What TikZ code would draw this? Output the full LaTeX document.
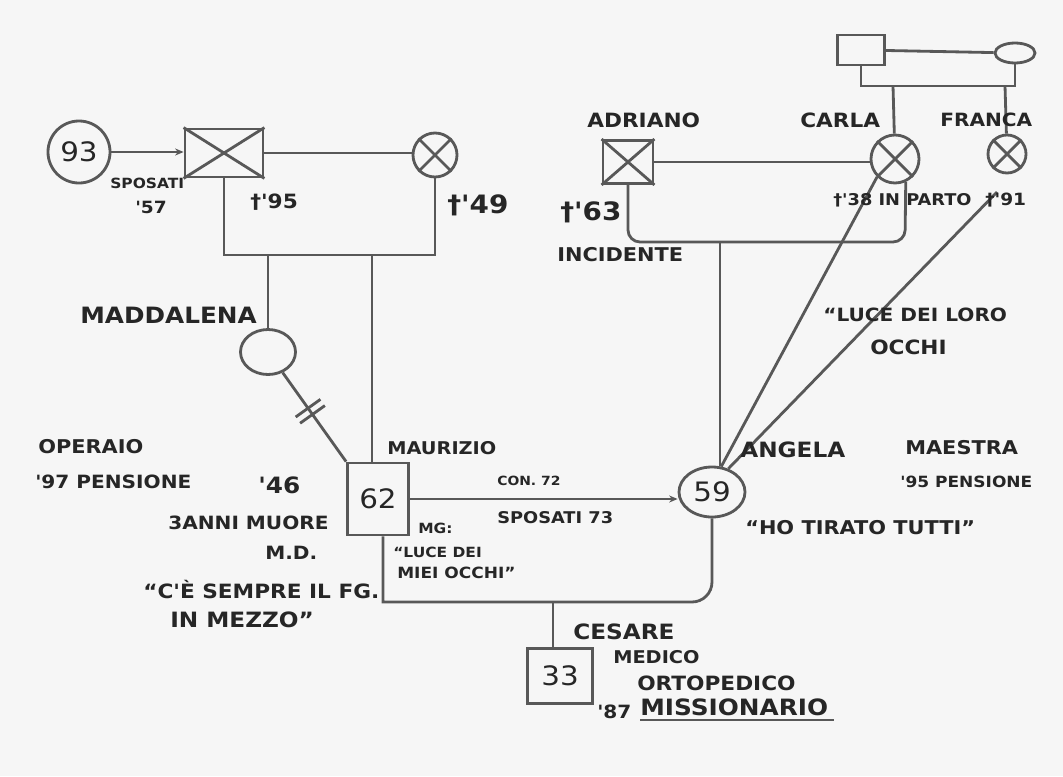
\documentclass[tikz,border=0pt]{standalone}
\usepackage{fontspec}
\newfontfamily\hand[FakeStretch=1.1]{DejaVu Sans}
\usetikzlibrary{shapes.geometric,arrows.meta,calc}
\definecolor{linec}{RGB}{88,88,88}
\definecolor{txtc}{RGB}{38,38,38}
\definecolor{bgc}{RGB}{246,246,246}
\newcommand\fsz[1]{\fontsize{#1}{#1}\selectfont}
\begin{document}
\begin{tikzpicture}[x=0.025cm,y=-0.025cm,
  ln/.style={draw=linec,line width=2pt},
  arr/.style={ln,-{Stealth[length=6pt,width=5pt]}},
  lab/.style={anchor=west,inner sep=0pt,text=txtc,font=\hand\bfseries},
  sq/.style={draw=linec,line width=2pt,rectangle,inner sep=0pt},
  ci/.style={draw=linec,line width=2pt,circle,inner sep=0pt},
  el/.style={draw=linec,line width=2pt,ellipse,inner sep=0pt},
  num/.style={text=txtc,font=\hand\fsz{19}}]
\fill[bgc] (0,0) rectangle (1063,776);
\useasboundingbox (0,0) rectangle (1063,776);

% ---------- left family ----------
\node[ci,minimum size=1.55cm,num] (n93) at (79,152) {93};
\node[sq,minimum width=1.95cm,minimum height=1.2cm] (sq1) at (224,153) {};
\draw[ln] (sq1.north west) -- (sq1.south east) (sq1.north east) -- (sq1.south west);
\node[ci,minimum size=1.1cm] (x1) at (435,155) {};
\draw[ln] (x1.north west) -- (x1.south east) (x1.north east) -- (x1.south west);
\draw[arr] (n93.east) -- (n93.east -| sq1.west);
\draw[ln] (sq1.east) -- (sq1.east -| x1.west);
\coordinate (u2) at (435,255);
\draw[ln] (sq1.south) |- (u2) -- (x1.south);
\coordinate (um) at (268,255);
\coordinate (uz) at (372,255);
\node[el,minimum width=1.375cm,minimum height=1.125cm] (mad) at (268,352) {};
\draw[ln] (um) -- (mad);
\node[sq,minimum width=1.525cm,minimum height=1.8cm,num] (mau) at (378,499) {62};
\draw[ln] (uz) -- (uz |- mau.north);
\draw[ln] (mad) -- (mau.north west) coordinate[pos=0.40] (k1) coordinate[pos=0.47] (k2);
\draw[ln] ($(k1)!0.38cm!90:(mau.north west)$) -- ($(k1)!0.38cm!-90:(mau.north west)$);
\draw[ln] ($(k2)!0.38cm!90:(mau.north west)$) -- ($(k2)!0.38cm!-90:(mau.north west)$);

% ---------- Angela ----------
\node[el,minimum width=1.65cm,minimum height=1.25cm,num] (ang) at (712,492) {59};
\draw[arr] (mau.east) -- (mau.east -| ang.west);
\coordinate (b1) at (383,602);
\draw[ln] (mau.south -| b1) -- (b1) [rounded corners=0.5cm] -| (ang.south);
\coordinate (bc) at (553,602);
\node[sq,minimum width=1.625cm,minimum height=1.375cm,num] (ces) at (560,676) {33};
\draw[ln] (bc) -- (bc |- ces.north);

% ---------- right family ----------
\node[sq,minimum width=1.175cm,minimum height=0.75cm] (tsq) at (861,50) {};
\node[el,minimum width=1.0cm,minimum height=0.5cm] (tel) at (1015,53) {};
\draw[ln] (tsq) -- (tel);
\coordinate (ut) at (1015,86);
\draw[ln] (tsq.south) |- (ut) -- (tel.south);
\coordinate (uc) at (893,86);
\coordinate (uf) at (1005,86);
\node[ci,minimum size=1.2cm] (carla) at (895,159) {};
\draw[ln] (carla.north west) -- (carla.south east) (carla.north east) -- (carla.south west);
\node[ci,minimum size=0.95cm] (fra) at (1007,154) {};
\draw[ln] (fra.north west) -- (fra.south east) (fra.north east) -- (fra.south west);
\draw[ln] (uc) -- (carla);
\draw[ln] (uf) -- (fra);
\node[sq,minimum width=1.25cm,minimum height=1.075cm] (adr) at (628,162) {};
\draw[ln] (adr.north west) -- (adr.south east) (adr.north east) -- (adr.south west);
\draw[ln] (adr.east) -- (adr.east -| carla.west);
\coordinate (ua) at (905,242);
\draw[ln,rounded corners=0.3cm] (adr.south) |- (ua) -- (carla.-65);
\coordinate (uan) at (720,242);
\draw[ln] (uan) -- (uan |- ang.north);
\draw[ln] (ang.70) -- (carla.south west);
\coordinate (fend) at (997,192);
\draw[ln] (ang.55) -- (fend);

% ---------- labels ----------
\node[lab] (lmad) at (80,315) {\fsz{16}MADDALENA};
\node[lab] (lsp) at (110,183) {\fsz{10}SPOSATI};
\node[lab] (l57) at (135,207) {\fsz{12}'57};
\node[lab] (l95) at (250,202) {\fsz{14}†'95};
\node[lab] (l49) at (447,205) {\fsz{18}†'49};
\node[lab] (lope) at (38,447) {\fsz{13.5}OPERAIO};
\node[lab] (l97) at (35,482) {\fsz{13}'97 PENSIONE};
\node[lab] (l46) at (258,485) {\fsz{16}'46};
\node[lab] (l3a) at (168,523) {\fsz{13}3ANNI MUORE};
\node[lab] (lmd) at (265,553) {\fsz{13}M.D.};
\node[lab] (lce) at (143,590) {\fsz{14}“C'È SEMPRE IL FG.};
\node[lab] (lmez) at (170,620) {\fsz{15}IN MEZZO”};
\node[lab] (lmau) at (387,448) {\fsz{12.5}MAURIZIO};
\node[lab] (lmg) at (418,528) {\fsz{10}MG:};
\node[lab] (lluc) at (393,552) {\fsz{10}“LUCE DEI};
\node[lab] (lmie) at (397,573) {\fsz{11}MIEI OCCHI”};
\node[lab] (lcon) at (497,481) {\fsz{9}CON. 72};
\node[lab] (lsp2) at (497,518) {\fsz{11.5}SPOSATI 73};
\node[lab] (lang) at (740,450) {\fsz{15}ANGELA};
\node[lab] (lmae) at (905,448) {\fsz{13.5}MAESTRA};
\node[lab] (l95p) at (900,482) {\fsz{11}'95 PENSIONE};
\node[lab] (lho) at (745,528) {\fsz{13.5}“HO TIRATO TUTTI”};
\node[lab] (lces) at (573,632) {\fsz{15}CESARE};
\node[lab] (lmed) at (613,657) {\fsz{12.5}MEDICO};
\node[lab] (lort) at (637,683) {\fsz{14}ORTOPEDICO};
\node[lab] (l87) at (597,712) {\fsz{13}'87};
\node[lab] (lmis) at (640,707) {\fsz{16}MISSIONARIO};
\draw[ln] ([yshift=-3pt]lmis.south west) -- ([yshift=-3pt,xshift=4pt]lmis.south east);
\node[lab] (ladr) at (587,120) {\fsz{14}ADRIANO};
\node[lab] (lcar) at (800,120) {\fsz{14}CARLA};
\node[lab] (lfra) at (940,120) {\fsz{13}FRANCA};
\node[lab] (l63) at (560,212) {\fsz{18}†'63};
\node[lab] (linc) at (557,255) {\fsz{13.5}INCIDENTE};
\node[lab] (l38) at (833,200) {\fsz{11.5}†'38 IN PARTO};
\node[lab] (l91) at (985,200) {\fsz{12}†'91};
\node[lab] (lllo) at (823,315) {\fsz{13}“LUCE DEI LORO};
\node[lab] (locc) at (870,347) {\fsz{14}OCCHI};
\end{tikzpicture}
\end{document}
